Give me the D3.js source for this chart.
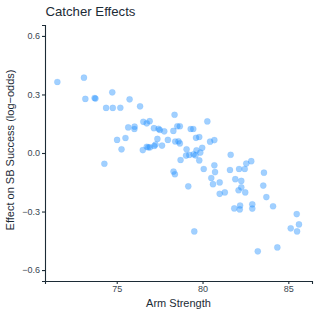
<!DOCTYPE html>
<html lang="en">
<head>
<meta charset="utf-8">
<title>Catcher Effects</title>
<script src="https://cdnjs.cloudflare.com/ajax/libs/d3/7.8.5/d3.min.js"></script>
<style>
  body { margin: 0; background: #fff; }
  text { font-family: "Liberation Sans", Arial, sans-serif; }
</style>
</head>
<body>
<script>
// arm strength (x) and catcher effect in log-odds (y)
const armStrength = [
  71.54, 73.09, 73.17, 73.71, 73.76, 74.74, 74.38, 74.77, 75.21, 75.75,
  76.36, 75.67, 76.04, 76.03, 76.55, 76.75, 76.92, 77.17, 77.44, 77.51,
  77.77, 78.30, 78.37, 78.53, 78.68, 79.31, 79.46, 80.28, 75.02, 75.51,
  75.28, 77.37, 77.98, 78.41, 78.60, 78.68, 79.62, 79.81, 80.44, 80.69,
  76.52, 76.75, 76.84, 76.94, 77.19, 77.26, 77.64, 79.07, 79.65, 79.98,
  74.28, 78.72, 79.04, 79.23, 79.48, 79.59, 79.87, 79.81, 81.64, 78.31,
  78.39, 80.07, 80.69, 80.73, 81.60, 82.13, 82.46, 82.55, 82.84, 83.58,
  79.17, 80.51, 80.61, 81.00, 81.91, 82.26, 83.54, 81.00, 81.30, 82.10,
  82.26, 82.49, 83.72, 81.85, 82.19, 82.17, 82.90, 82.90, 84.11, 85.49,
  85.62, 85.14, 85.51, 79.52, 83.22, 84.36
];
const sbEffect = [
  0.364, 0.386, 0.277, 0.282, 0.279, 0.311, 0.231, 0.231, 0.232, 0.275,
  0.239, 0.131, 0.135, 0.123, 0.160, 0.152, 0.163, 0.127, 0.124, 0.118,
  0.111, 0.113, 0.196, 0.137, 0.137, 0.123, 0.123, 0.162, 0.067, 0.077,
  0.019, 0.072, 0.067, 0.059, 0.060, 0.049, 0.078, 0.082, 0.058, 0.066,
  0.015, 0.032, 0.029, 0.029, 0.036, 0.043, 0.038, 0.019, 0.014, 0.027,
  -0.055, -0.036, -0.013, -0.010, -0.007, -0.012, 0.002, -0.038, -0.009, -0.095,
  -0.109, -0.082, -0.063, -0.098, -0.087, -0.082, -0.082, -0.054, -0.042, -0.101,
  -0.171, -0.128, -0.160, -0.151, -0.134, -0.143, -0.167, -0.209, -0.202, -0.191,
  -0.176, -0.202, -0.226, -0.284, -0.269, -0.289, -0.263, -0.285, -0.273, -0.313,
  -0.366, -0.386, -0.402, -0.402, -0.504, -0.484
];
const xTicks = [75, 80, 85];
const yTicks = [-0.6, -0.3, 0, 0.3, 0.6];

const W = 317, H = 317;
const ink = "#1c2b36";
const textCol = "#3a4650";

const svg = d3.select("body").append("svg")
  .attr("width", W).attr("height", H);

const x = d3.scaleLinear().domain([70.82, 86.38]).range([45, 312]);
const y = d3.scaleLinear().domain([-0.656, 0.656]).range([281, 25]);

const pts = armStrength.map((a, i) => ({ a: a, e: sbEffect[i] }));

svg.append("g")
  .selectAll("circle")
  .data(pts)
  .enter().append("circle")
  .attr("cx", d => x(d.a))
  .attr("cy", d => y(d.e))
  .attr("r", 3.1)
  .attr("fill", "#1E90FF")
  .attr("fill-opacity", 0.42)
  .attr("stroke", "#1E90FF")
  .attr("stroke-opacity", 0.15)
  .attr("stroke-width", 0.6);

const xAxis = svg.append("g")
  .attr("transform", "translate(0,281)")
  .call(d3.axisBottom(x).tickValues(xTicks).tickSize(3).tickPadding(2).tickFormat(d3.format("d")));

const yAxis = svg.append("g")
  .attr("transform", "translate(45,0)")
  .call(d3.axisLeft(y).tickValues(yTicks).tickSize(3).tickPadding(2)
    .tickFormat(d => d3.format(".1f")(d).replace("-", "\u2212")));

[xAxis, yAxis].forEach(g => {
  g.select(".domain").attr("stroke", ink).attr("stroke-width", 1.1);
  g.selectAll(".tick line").attr("stroke", ink).attr("stroke-width", 1.1);
  g.selectAll(".tick text").attr("fill", textCol).style("font-size", "9px");
});

svg.append("text")
  .attr("x", 45.5).attr("y", 15.5)
  .attr("fill", ink)
  .style("font-size", "13.2px")
  .text("Catcher Effects");

svg.append("text")
  .attr("x", 178.5).attr("y", 307)
  .attr("text-anchor", "middle")
  .attr("fill", ink)
  .style("font-size", "11px")
  .text("Arm Strength");

svg.append("text")
  .attr("transform", "translate(14,150) rotate(-90)")
  .attr("text-anchor", "middle")
  .attr("fill", ink)
  .style("font-size", "11px")
  .text("Effect on SB Success (log\u2212odds)");
</script>
</body>
</html>
